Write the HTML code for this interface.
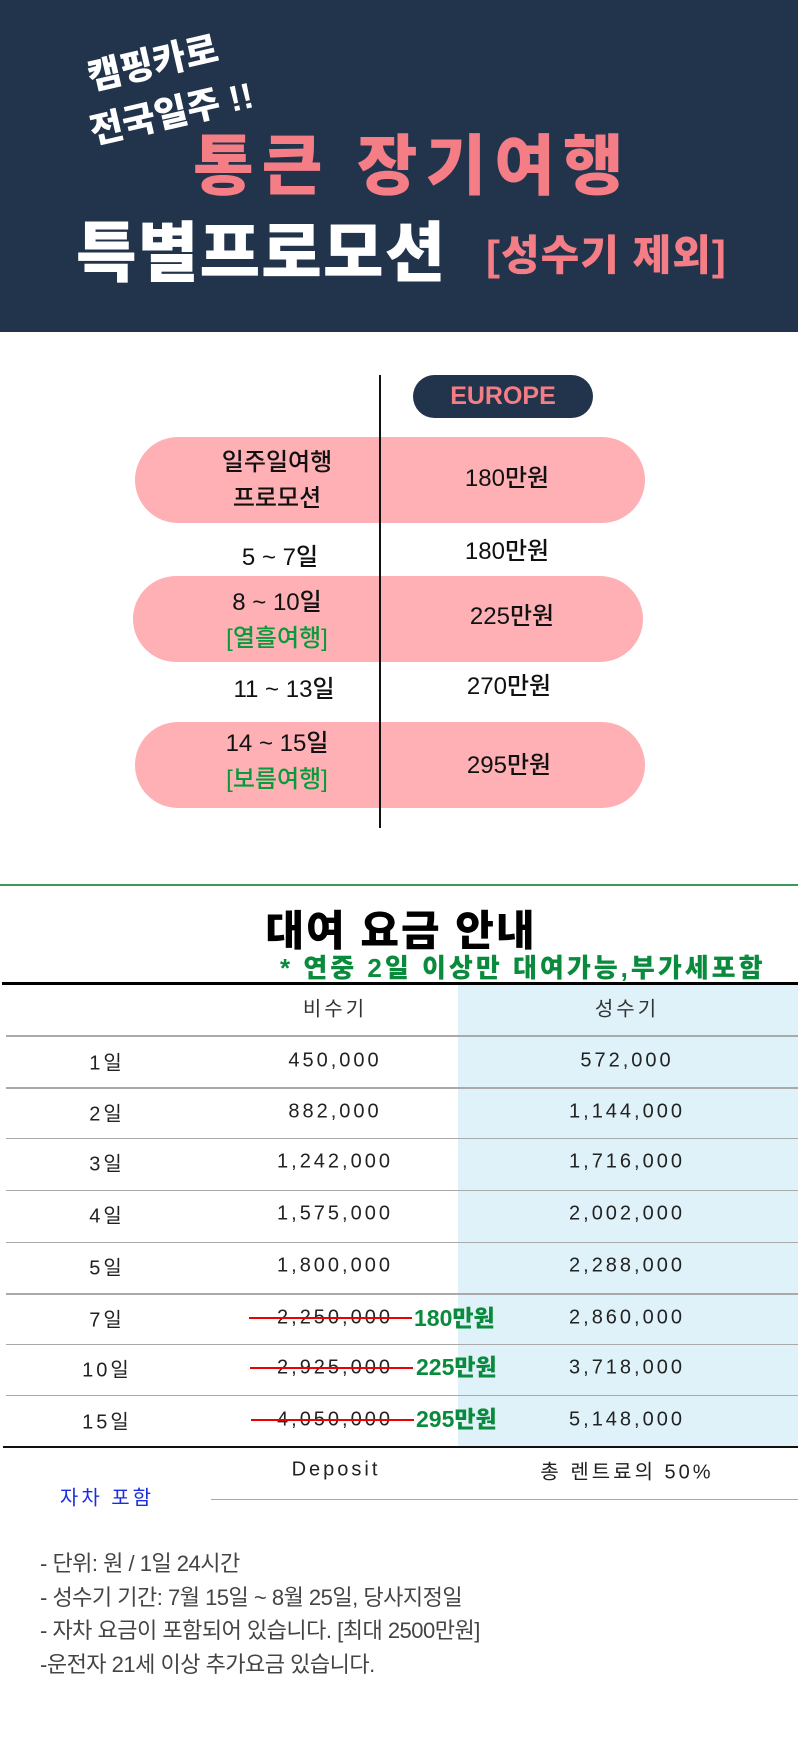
<!DOCTYPE html>
<html><head><meta charset="utf-8">
<style>
*{margin:0;padding:0;box-sizing:border-box}
body{width:798px;height:1762px;background:#fff;position:relative;overflow:hidden;font-family:"Liberation Sans","Noto Sans CJK KR",sans-serif}
.a{position:absolute;white-space:nowrap}
.c{transform:translate(-50%,-50%);text-align:center}
.pill{position:absolute;left:135px;width:510px;height:86px;border-radius:43px;background:#feb0b5}
.t{font-size:24px;color:#111;font-weight:500;line-height:36px}
.g{color:#0a9a3c}
.row{position:absolute;left:6px;right:0;height:1px;background:#aaa}
.cell{position:absolute;font-size:20px;color:#222;transform:translate(-50%,-50%);letter-spacing:3px;white-space:nowrap}
.strike{position:absolute;height:2px;background:#e00}
.gp{position:absolute;font-size:23px;font-weight:900;color:#0a8a3c;transform:translateY(-50%);white-space:nowrap}
.note{position:absolute;left:40px;font-size:22px;color:#444;letter-spacing:-0.5px;white-space:nowrap}
</style></head><body>
<div class="a" style="left:0;top:0;width:798px;height:332px;background:#22344b"></div>
<div class="a" style="left:82px;top:50px;font-size:36px;font-weight:900;color:#fff;transform:rotate(-13deg);transform-origin:left top">캠핑카로</div>
<div class="a" style="left:84px;top:104px;font-size:36px;font-weight:900;color:#fff;transform:rotate(-13deg);transform-origin:left top">전국일주 !!</div>
<div class="a" style="left:193px;top:113px;font-size:66px;font-weight:900;color:#f47d86;letter-spacing:8px">통큰 장기여행</div>
<div class="a" style="left:76px;top:200px;font-size:66px;font-weight:900;color:#fff;letter-spacing:1px">특별프로모션</div>
<div class="a" style="left:486px;top:222px;font-size:42px;font-weight:900;color:#f47d86;letter-spacing:1px">[성수기 제외]</div>

<div class="pill" style="top:437px"></div>
<div class="pill" style="top:576px;left:133px"></div>
<div class="pill" style="top:722px"></div>
<div class="a" style="left:379px;top:375px;width:2px;height:453px;background:#111"></div>
<div class="a" style="left:413px;top:375px;width:180px;height:43px;border-radius:22px;background:#22344b;color:#f47d86;font-size:25px;font-weight:700;text-align:center;line-height:43px">EUROPE</div>

<div class="a c t" style="left:277px;top:481px">일주일여행<br>프로모션</div>
<div class="a c t" style="left:507px;top:479px">180만원</div>
<div class="a c t" style="left:280px;top:558px">5 ~ 7일</div>
<div class="a c t" style="left:507px;top:552px">180만원</div>
<div class="a c t" style="left:277px;top:621px">8 ~ 10일<br><span class="g">[열흘여행]</span></div>
<div class="a c t" style="left:512px;top:617px">225만원</div>
<div class="a c t" style="left:284px;top:690px">11 ~ 13일</div>
<div class="a c t" style="left:509px;top:687px">270만원</div>
<div class="a c t" style="left:277px;top:762px">14 ~ 15일<br><span class="g">[보름여행]</span></div>
<div class="a c t" style="left:509px;top:766px">295만원</div>

<div class="a" style="left:0;top:884px;width:798px;height:2px;background:#3a9a5a"></div>
<div class="a c" style="left:401px;top:928px;font-size:42px;font-weight:900;color:#000;letter-spacing:2px">대여 요금 안내</div>
<div class="a" style="left:280px;top:948px;font-size:26px;font-weight:900;color:#0a8a3c;letter-spacing:3px">* 연중 2일 이상만 대여가능,부가세포함</div>
<div class="a" style="left:458px;top:984px;width:340px;height:463px;background:#dff2f9"></div>
<div class="a" style="left:2px;top:982px;width:796px;height:3px;background:#000"></div>
<div class="cell" style="left:335px;top:1007px;color:#333">비수기</div>
<div class="cell" style="left:627px;top:1007px;color:#333">성수기</div>
<div class="row" style="top:1035px;height:2px"></div>
<div class="row" style="top:1087px;height:2px"></div>
<div class="row" style="top:1138px"></div>
<div class="row" style="top:1190px"></div>
<div class="row" style="top:1242px"></div>
<div class="row" style="top:1293px;height:2px"></div>
<div class="row" style="top:1344px"></div>
<div class="row" style="top:1395px"></div>
<div class="a" style="left:3px;top:1446px;width:795px;height:2px;background:#111"></div>

<div class="cell" style="left:107px;top:1061px">1일</div>
<div class="cell" style="left:335px;top:1061px">450,000</div>
<div class="cell" style="left:627px;top:1061px">572,000</div>
<div class="cell" style="left:107px;top:1112px">2일</div>
<div class="cell" style="left:335px;top:1112px">882,000</div>
<div class="cell" style="left:627px;top:1112px">1,144,000</div>
<div class="cell" style="left:107px;top:1162px">3일</div>
<div class="cell" style="left:335px;top:1162px">1,242,000</div>
<div class="cell" style="left:627px;top:1162px">1,716,000</div>
<div class="cell" style="left:107px;top:1214px">4일</div>
<div class="cell" style="left:335px;top:1214px">1,575,000</div>
<div class="cell" style="left:627px;top:1214px">2,002,000</div>
<div class="cell" style="left:107px;top:1266px">5일</div>
<div class="cell" style="left:335px;top:1266px">1,800,000</div>
<div class="cell" style="left:627px;top:1266px">2,288,000</div>
<div class="cell" style="left:107px;top:1318px">7일</div>
<div class="cell" style="left:335px;top:1318px">2,250,000</div>
<div class="strike" style="left:249px;top:1317px;width:163px"></div>
<div class="gp" style="left:414px;top:1316px">180만원</div>
<div class="cell" style="left:627px;top:1318px">2,860,000</div>
<div class="cell" style="left:107px;top:1368px">10일</div>
<div class="cell" style="left:335px;top:1368px">2,925,000</div>
<div class="strike" style="left:250px;top:1367px;width:163px"></div>
<div class="gp" style="left:416px;top:1365px">225만원</div>
<div class="cell" style="left:627px;top:1368px">3,718,000</div>
<div class="cell" style="left:107px;top:1420px">15일</div>
<div class="cell" style="left:335px;top:1420px">4,050,000</div>
<div class="strike" style="left:251px;top:1419px;width:163px"></div>
<div class="gp" style="left:416px;top:1417px">295만원</div>
<div class="cell" style="left:627px;top:1420px">5,148,000</div>

<div class="cell" style="left:336px;top:1470px">Deposit</div>
<div class="cell" style="left:627px;top:1470px">총 렌트료의 50%</div>
<div class="cell" style="left:107px;top:1496px;color:#1a2ee0">자차 포함</div>
<div class="a" style="left:211px;top:1499px;width:587px;height:1px;background:#aaa"></div>

<div class="note" style="top:1546px">- 단위: 원 / 1일 24시간</div>
<div class="note" style="top:1580px">- 성수기 기간: 7월 15일 ~ 8월 25일, 당사지정일</div>
<div class="note" style="top:1613px">- 자차 요금이 포함되어 있습니다. [최대 2500만원]</div>
<div class="note" style="top:1647px">-운전자 21세 이상 추가요금 있습니다.</div>
</body></html>
